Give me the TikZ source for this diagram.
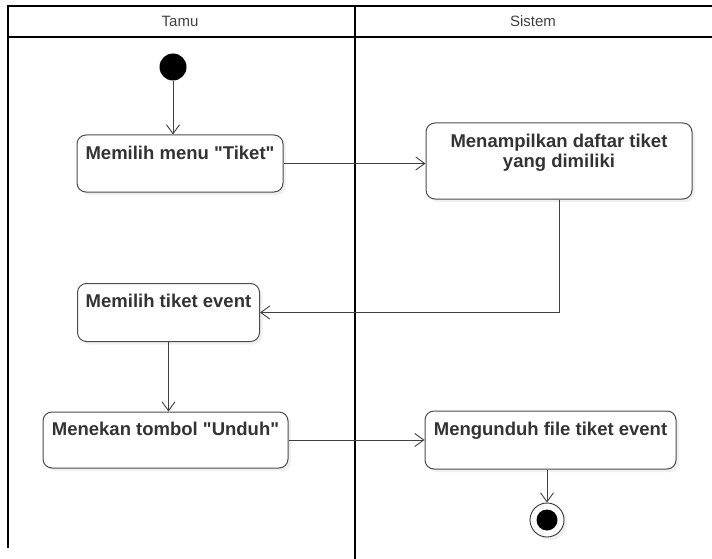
\documentclass[tikz,border=0pt]{standalone}
\usepackage{fontspec}
\setmainfont[Ligatures=TeXOff]{Liberation Sans}
\usetikzlibrary{arrows.meta,shadows,calc}

\tikzset{
  lane/.style={line width=2pt, black},
  act/.style={draw=black!70, line width=1pt, rounded corners=9pt, fill=white,
    drop shadow={shadow xshift=3pt, shadow yshift=-3pt, opacity=0.12}},
  acttext/.style={anchor=north, inner sep=0pt, align=center, text=black!80,
    font=\bfseries\fontsize{18.5}{20}\selectfont},
  flow/.style={draw=black!75, line width=0.9pt, -{Straight Barb[length=9pt,width=13pt]}},
}

\begin{document}
\begin{tikzpicture}[x=1pt, y=-1pt]
  \useasboundingbox (0,0) rectangle (712,559);
  % swimlanes
  \draw[lane] (712,6) -- (8,6) -- (8,548);
  \draw[lane] (8,37) -- (712,37);
  \draw[lane] (355,6) -- (355,559);
  \node[text=black!75, font=\fontsize{15}{17}\selectfont] (tamu) at (180,21) {Tamu};
  \node[text=black!75, font=\fontsize{15}{17}\selectfont] (sistem) at (533,21) {Sistem};

  % start
  \node[circle, fill=black, minimum size=27pt, inner sep=0pt] (start) at (173,67) {};

  % activities
  \node[act, minimum width=206pt, minimum height=57pt] (menu) at (180,163.5) {};
  \node[acttext, below=11pt] (menutxt) at (menu.north) {Memilih menu "Tiket"};

  \node[act, minimum width=266pt, minimum height=76pt] (tampil) at (559,161) {};
  \node[acttext, below=11pt] (tampiltxt) at (tampil.north) {Menampilkan daftar tiket\\yang dimiliki};

  \node[act, minimum width=182pt, minimum height=58pt] (pilih) at (168.5,312.5) {};
  \node[acttext, below=11pt] (pilihtxt) at (pilih.north) {Memilih tiket event};

  \node[act, minimum width=245pt, minimum height=56pt] (tekan) at (165.5,440) {};
  \node[acttext, below=10pt] (tekantxt) at (tekan.north) {Menekan tombol "Unduh"};

  \node[act, minimum width=251pt, minimum height=58pt] (unduh) at (550.5,440) {};
  \node[acttext, below=11pt] (unduhtxt) at (unduh.north) {Mengunduh file tiket event};

  % end
  \node[circle, draw=black!80, line width=0.9pt, fill=white, minimum size=34pt, inner sep=0pt,
    drop shadow={shadow xshift=3pt, shadow yshift=-3pt, opacity=0.12}] (finish) at (547,520) {};
  \node[circle, fill=black, minimum size=21pt, inner sep=0pt] (finishdot) at (finish) {};

  % flows
  \draw[flow] (start) -- (start |- menu.north);
  \draw[flow] (menu.east) -- (menu.east -| tampil.west);
  \draw[flow] (tampil.south) |- (pilih.east);
  \draw[flow] (pilih.south) -- (pilih.south |- tekan.north);
  \draw[flow] (tekan.east) -- (tekan.east -| unduh.west);
  \draw[flow] (unduh.south -| finish) -- (finish.north);
\end{tikzpicture}
\end{document}
